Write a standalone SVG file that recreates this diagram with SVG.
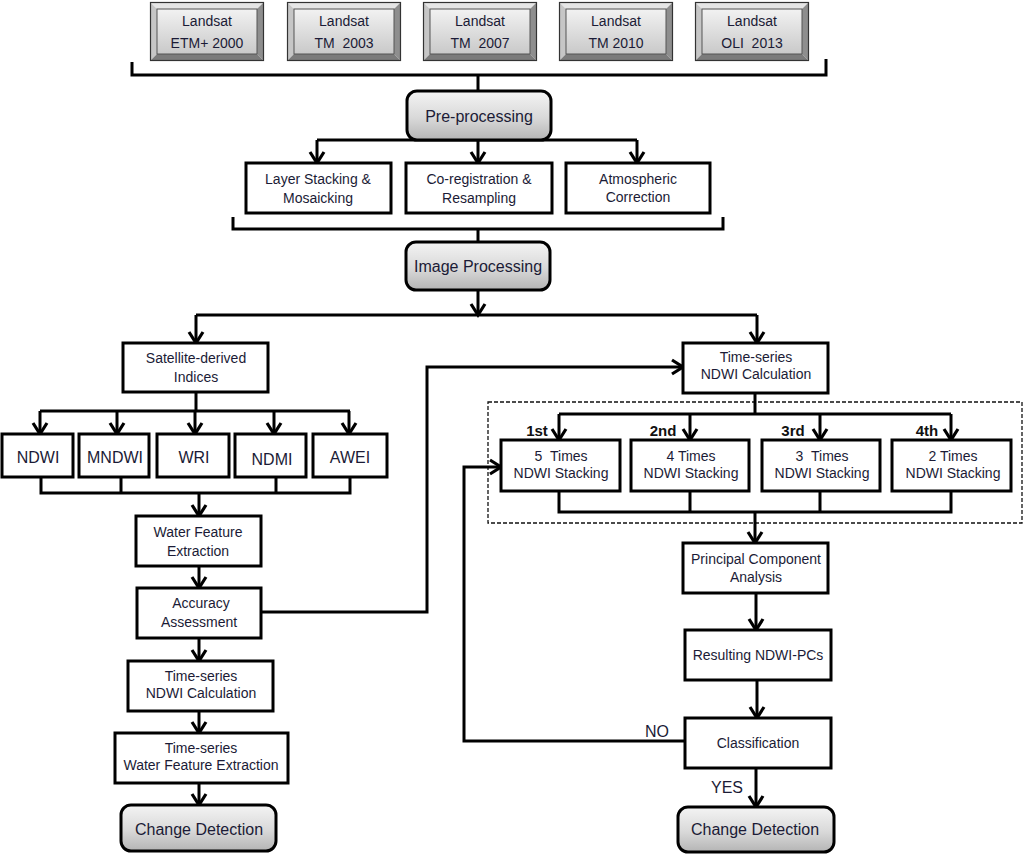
<svg xmlns="http://www.w3.org/2000/svg" width="1024" height="854" viewBox="0 0 1024 854">
<defs>
<linearGradient id="face" x1="0" y1="0" x2="0" y2="1">
<stop offset="0" stop-color="#f2f2f2"/><stop offset="1" stop-color="#c9c9c9"/>
</linearGradient>
<linearGradient id="round" x1="0" y1="0" x2="0" y2="1">
<stop offset="0" stop-color="#f4f4f4"/><stop offset="0.55" stop-color="#d9d9d9"/><stop offset="1" stop-color="#b4b4b4"/>
</linearGradient>
<marker id="arr" markerUnits="userSpaceOnUse" viewBox="0 0 14 16" refX="12" refY="8" markerWidth="14" markerHeight="16" orient="auto" overflow="visible">
<path d="M1,1 L12,8 L1,15" fill="none" stroke="#000" stroke-width="3.2"/>
</marker>
<g id="bevel">
<polygon points="0,0 114,0 107,7 7,7" fill="#e6e6e6"/>
<polygon points="0,0 7,7 7,52 0,59" fill="#c6c6c6"/>
<polygon points="114,0 114,59 107,52 107,7" fill="#8e8e8e"/>
<polygon points="0,59 114,59 107,52 7,52" fill="#7b7b7b"/>
<rect x="7" y="7" width="100" height="45" fill="url(#face)" stroke="#555" stroke-width="1"/>
<rect x="0.5" y="0.5" width="113" height="58" fill="none" stroke="#333" stroke-width="1.2"/>
</g>
</defs>
<style>
text{font-family:"Liberation Sans",Arial,sans-serif;fill:#1b1b36;text-anchor:middle;font-size:14px}
.big{font-size:16px}
.bold{font-weight:bold;font-size:15px;fill:#111}
.box{fill:#fff;stroke:#000;stroke-width:3}
.rbox{fill:url(#round);stroke:#000;stroke-width:3}
.ln{fill:none;stroke:#000;stroke-width:3;stroke-linejoin:miter}
.ar{fill:none;stroke:#000;stroke-width:3;marker-end:url(#arr)}
.dash{fill:none;stroke:#111;stroke-width:1.3;stroke-dasharray:4 2}
</style>
<rect width="1024" height="854" fill="#fff"/>

<g id="connectors">
<path class="ln" d="M132,62 V75 H826 V59"/>
<path class="ln" d="M478,75 V91"/>
<path class="ln" d="M317,140 H637"/>
<path class="ar" d="M317,140 V163"/>
<path class="ar" d="M478,140 V163"/>
<path class="ar" d="M637,140 V163"/>
<path class="ln" d="M233,217 V229 H723 V217"/>
<path class="ln" d="M478,229 V242"/>
<path class="ar" d="M478,290 V315"/>
<path class="ln" d="M196,315 H757"/>
<path class="ar" d="M196,315 V343"/>
<path class="ar" d="M757,315 V343"/>
<path class="ln" d="M196,392 V411"/>
<path class="ln" d="M40,411 H350"/>
<path class="ar" d="M40,411 V434"/>
<path class="ar" d="M117,411 V434"/>
<path class="ar" d="M195,411 V434"/>
<path class="ar" d="M274,411 V434"/>
<path class="ar" d="M349,411 V434"/>
<path class="ln" d="M41,477 V493 H350 V477 M121,477 V493 M276,477 V493"/>
<path class="ar" d="M199,493 V516"/>
<path class="ar" d="M199,566 V588"/>
<path class="ar" d="M199,638 V661"/>
<path class="ar" d="M199,711 V733"/>
<path class="ar" d="M199,783 V805"/>
<path class="ar" d="M261,612 H427 V367 H683"/>
<rect class="dash" x="488" y="402" width="534" height="121"/>
<path class="ln" d="M755,393 V414"/>
<path class="ln" d="M559,414 H951"/>
<path class="ar" d="M559,414 V440"/>
<path class="ar" d="M690,414 V440"/>
<path class="ar" d="M820,414 V440"/>
<path class="ar" d="M951,414 V440"/>
<path class="ln" d="M559,491 V512 H951 V491 M690,491 V512 M820,491 V512"/>
<path class="ar" d="M755,512 V543"/>
<path class="ar" d="M756,593 V630"/>
<path class="ar" d="M757,680 V718"/>
<path class="ar" d="M756,768 V807"/>
<path class="ar" d="M685,741 H464 V467 H501"/>
<text class="big" x="657" y="737">NO</text>
<text class="big" x="727" y="793">YES</text>
</g>

<g id="landsat-2000"><use href="#bevel" x="150" y="2"/><text x="207" y="26">Landsat</text><text x="207" y="48">ETM+ 2000</text></g>
<g id="landsat-2003"><use href="#bevel" x="287" y="2"/><text x="344" y="26">Landsat</text><text x="344" y="48">TM&#160;&#160;2003</text></g>
<g id="landsat-2007"><use href="#bevel" x="423" y="2"/><text x="480" y="26">Landsat</text><text x="480" y="48">TM&#160;&#160;2007</text></g>
<g id="landsat-2010"><use href="#bevel" x="559" y="2"/><text x="616" y="26">Landsat</text><text x="616" y="48">TM 2010</text></g>
<g id="landsat-2013"><use href="#bevel" x="695" y="2"/><text x="752" y="26">Landsat</text><text x="752" y="48">OLI&#160;&#160;2013</text></g>

<g id="preprocessing"><rect class="rbox" x="407" y="91" width="144" height="49" rx="10"/><text class="big" x="479" y="122">Pre-processing</text></g>

<g id="layer-stacking"><rect class="box" x="246" y="163" width="145" height="50"/><text x="318" y="184">Layer Stacking &amp;</text><text x="318" y="203">Mosaicking</text></g>
<g id="coregistration"><rect class="box" x="406" y="163" width="146" height="50"/><text x="479" y="184">Co-registration &amp;</text><text x="479" y="203">Resampling</text></g>
<g id="atmospheric"><rect class="box" x="566" y="163" width="144" height="50"/><text x="638" y="184">Atmospheric</text><text x="638" y="202">Correction</text></g>

<g id="image-processing"><rect class="rbox" x="406" y="242" width="144" height="48" rx="10"/><text class="big" x="478" y="272">Image Processing</text></g>

<g id="satellite-indices"><rect class="box" x="123" y="343" width="145" height="49"/><text x="196" y="363">Satellite-derived</text><text x="196" y="382">Indices</text></g>

<g id="ndwi"><rect class="box" x="2" y="434" width="71" height="43"/><text class="big" x="38" y="463">NDWI</text></g>
<g id="mndwi"><rect class="box" x="79" y="434" width="70" height="43"/><text class="big" x="115" y="463">MNDWI</text></g>
<g id="wri"><rect class="box" x="157" y="434" width="72" height="43"/><text class="big" x="194" y="463">WRI</text></g>
<g id="ndmi"><rect class="box" x="235" y="434" width="71" height="43"/><text class="big" x="272" y="465">NDMI</text></g>
<g id="awei"><rect class="box" x="313" y="434" width="74" height="43"/><text class="big" x="350" y="463">AWEI</text></g>

<g id="water-feature"><rect class="box" x="136" y="516" width="125" height="50"/><text x="198" y="537">Water Feature</text><text x="198" y="556">Extraction</text></g>
<g id="accuracy"><rect class="box" x="137" y="588" width="124" height="50"/><text x="201" y="608">Accuracy</text><text x="199" y="627">Assessment</text></g>
<g id="ts-ndwi-left"><rect class="box" x="128" y="661" width="145" height="50"/><text x="201" y="681">Time-series</text><text x="201" y="698">NDWI Calculation</text></g>
<g id="ts-wfe"><rect class="box" x="115" y="733" width="173" height="50"/><text x="201" y="753">Time-series</text><text x="201" y="770">Water Feature Extraction</text></g>
<g id="change-left"><rect class="rbox" x="121" y="805" width="155" height="46" rx="10"/><text class="big" x="199" y="835">Change Detection</text></g>

<g id="ts-ndwi-right"><rect class="box" x="683" y="343" width="145" height="50"/><text x="756" y="362">Time-series</text><text x="756" y="379">NDWI Calculation</text></g>

<g id="stack5"><text class="bold" x="537" y="436">1st</text><rect class="box" x="501" y="440" width="119" height="51"/><text x="561" y="461">5&#160;&#160;Times</text><text x="561" y="478">NDWI Stacking</text></g>
<g id="stack4"><text class="bold" x="663" y="436">2nd</text><rect class="box" x="631" y="440" width="118" height="51"/><text x="691" y="461">4 Times</text><text x="691" y="478">NDWI Stacking</text></g>
<g id="stack3"><text class="bold" x="793" y="436">3rd</text><rect class="box" x="762" y="440" width="118" height="51"/><text x="822" y="461">3&#160;&#160;Times</text><text x="822" y="478">NDWI Stacking</text></g>
<g id="stack2"><text class="bold" x="927" y="436">4th</text><rect class="box" x="892" y="440" width="119" height="51"/><text x="953" y="461">2 Times</text><text x="953" y="478">NDWI Stacking</text></g>

<g id="pca"><rect class="box" x="683" y="543" width="145" height="50"/><text x="756" y="564">Principal Component</text><text x="756" y="582">Analysis</text></g>
<g id="resulting"><rect class="box" x="685" y="630" width="146" height="50"/><text x="758" y="660">Resulting NDWI-PCs</text></g>
<g id="classification"><rect class="box" x="685" y="718" width="146" height="50"/><text x="758" y="748">Classification</text></g>
<g id="change-right"><rect class="rbox" x="678" y="807" width="156" height="45" rx="10"/><text class="big" x="755" y="835">Change Detection</text></g>
</svg>
